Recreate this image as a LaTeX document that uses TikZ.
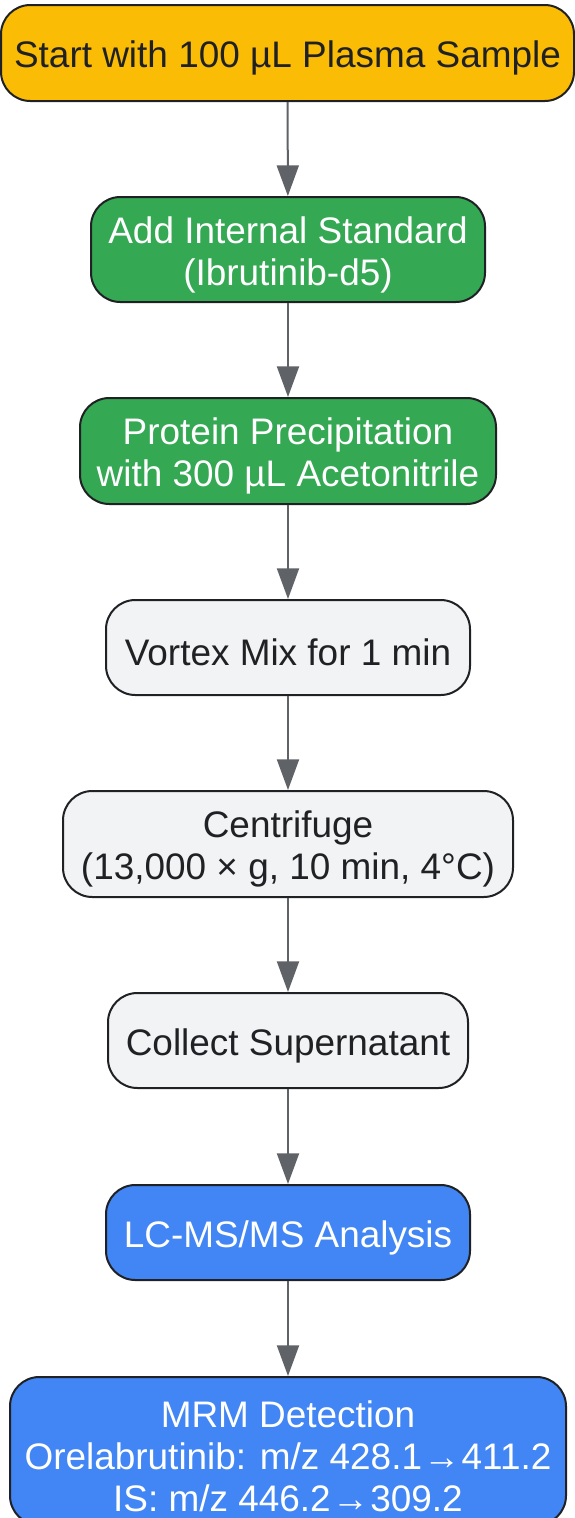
\documentclass[tikz,border=0pt]{standalone}
\usepackage{fontspec}
\setmainfont{Liberation Sans}
\usetikzlibrary{arrows.meta}
\definecolor{cyellow}{HTML}{FBBC05}
\definecolor{cgreen}{HTML}{34A853}
\definecolor{cgray}{HTML}{F1F3F4}
\definecolor{cblue}{HTML}{4285F4}
\definecolor{carrow}{HTML}{5F6368}
\definecolor{cborder}{HTML}{202124}
\definecolor{ctext}{HTML}{202124}
\tikzset{
  box/.style={draw=cborder, line width=1.5pt, rounded corners=22pt, rectangle, inner sep=0pt},
  txt/.style={align=center, inner sep=0pt, yshift=-3.75pt, font=\fontsize{27.7pt}{31.5pt}\selectfont},
  yellowbox/.style={box, fill=cyellow},
  greenbox/.style={box, fill=cgreen},
  graybox/.style={box, fill=cgray},
  bluebox/.style={box, fill=cblue},
  darktxt/.style={txt, text=ctext},
  whitetxt/.style={txt, text=white},
  flow/.style={draw=carrow, line width=1.5pt, -{Triangle[length=23pt,width=16.5pt]}}
}
\begin{document}
\begin{tikzpicture}[x=0.75pt,y=-0.75pt]
\useasboundingbox (0,0) rectangle (575,1518);
\node[yellowbox, minimum width=573*0.75pt, minimum height=96*0.75pt] (n1) at (287.5,53) {};
\node[darktxt] (t1) at (n1.center) {Start with 100 µL Plasma Sample};
\node[greenbox, minimum width=394*0.75pt, minimum height=105*0.75pt] (n2) at (288,249.5) {};
\node[whitetxt] (t2) at (n2.center) {Add Internal Standard\\(Ibrutinib-d5)};
\node[greenbox, minimum width=416*0.75pt, minimum height=106*0.75pt] (n3) at (288,451) {};
\node[whitetxt] (t3) at (n3.center) {Protein Precipitation\\with 300 µL Acetonitrile};
\node[graybox, minimum width=364*0.75pt, minimum height=95*0.75pt] (n4) at (288,647.5) {};
\node[darktxt] (t4) at (n4.center) {Vortex Mix for 1 min};
\node[graybox, minimum width=450*0.75pt, minimum height=106*0.75pt] (n5) at (288,844) {};
\node[darktxt] (t5) at (n5.center) {Centrifuge\\(13,000 × g, 10 min, 4°C)};
\node[graybox, minimum width=360*0.75pt, minimum height=95*0.75pt] (n6) at (288,1040.5) {};
\node[darktxt] (t6) at (n6.center) {Collect Supernatant};
\node[bluebox, minimum width=364*0.75pt, minimum height=95*0.75pt] (n7) at (288,1232.5) {};
\node[whitetxt] (t7) at (n7.center) {LC-MS/MS Analysis};
\node[bluebox, minimum width=556*0.75pt, minimum height=148*0.75pt] (n8) at (288,1451) {};
\node[whitetxt] (t8) at (n8.center) {MRM Detection\\Orelabrutinib: m/z 428.1\hspace{1pt}→\hspace{1pt}411.2\\IS: m/z 446.2\hspace{1pt}→\hspace{1pt}309.2};
\draw[flow] (n1) -- (n2);
\draw[flow] (n2) -- (n3);
\draw[flow] (n3) -- (n4);
\draw[flow] (n4) -- (n5);
\draw[flow] (n5) -- (n6);
\draw[flow] (n6) -- (n7);
\draw[flow] (n7) -- (n8);
\end{tikzpicture}
\end{document}
